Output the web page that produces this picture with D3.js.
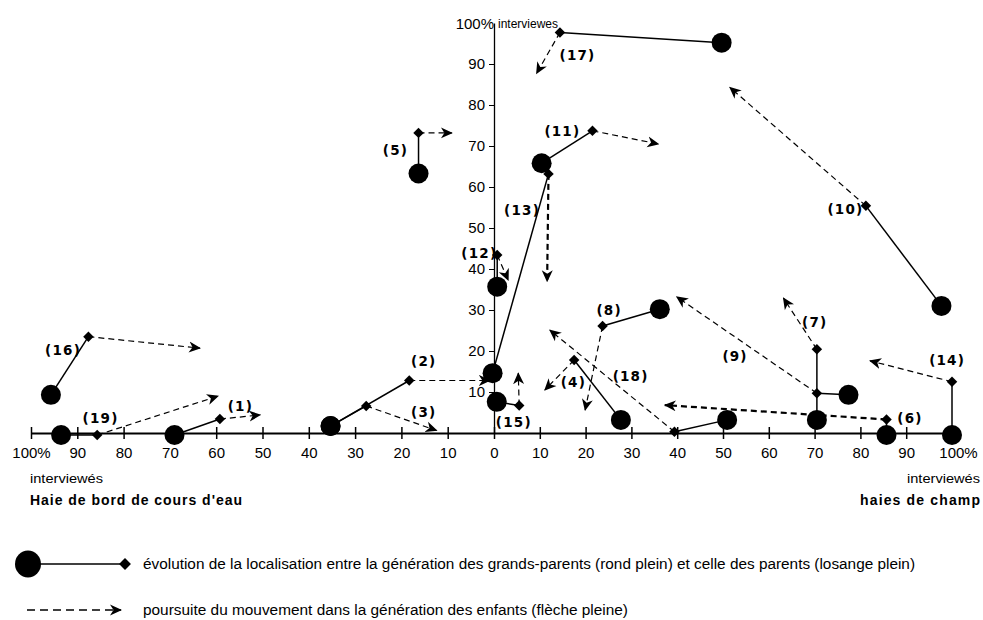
<!DOCTYPE html>
<html>
<head>
<meta charset="utf-8">
<script src="https://cdn.jsdelivr.net/npm/d3@7"></script>
<style>
  body { margin: 0; background: #fff; }
  svg { display: block; }
  .tick text { font-family: "Liberation Sans", Arial, sans-serif; font-size: 15px; fill: #000; }
  .num { font-family: "DejaVu Sans", sans-serif; font-size: 13.5px; font-weight: 600; letter-spacing: 1.2px; }
</style>
</head>
<body>
<div class="chart"></div>
<script>
// Trajectories: x negative = haie de bord de cours d'eau, positive = haies de champ
var ids = ["1", "2", "3", "4", "5", "6", "7", "8", "9", "10", "11", "12", "13", "14", "15", "16", "17", "18", "19"];
// grands-parents (rond plein)
var gpX = [-69, -35.3, -35.3, 27.7, -16.3, 85.7, 70.5, 36.2, 77.4, 97.7, 10.4, 0.7, -0.3, 100, 0.6, -95.7, 49.7, 50.9, -93.5];
var gpY = [-0.5, 1.7, 1.7, 3.2, 63.3, -0.5, 3.2, 30.2, 9.3, 31, 65.8, 35.7, 14.6, -0.5, 7.6, 9.3, 95.2, 3.2, -0.5];
// parents (losange plein)
var pX = [-59.2, -18.3, -27.6, 17.5, -16.3, 85.7, 70.5, 23.7, 70.5, 81.2, 21.5, 0.7, 11.9, 100, 5.5, -87.6, 14.4, 39.4, -85.7];
var pY = [3.4, 12.8, 6.6, 17.8, 73.2, 3.3, 20.4, 26.1, 9.7, 55.4, 73.7, 43.4, 63.2, 12.5, 6.7, 23.5, 97.7, 0.3, -0.5];
// enfants (fleche pleine)
var cX = [-50.5, -0.9, -12.4, 11.1, -9.1, 37.3, 63.2, 19.9, 39.9, 51.5, 35.9, 3.1, 11.6, 82.1, 5.3, -63.5, 9.3, 12.2, -59.6];
var cY = [4.4, 12.8, 0.6, 10.5, 73.2, 6.8, 32.9, 5.6, 33.2, 84.3, 70.5, 37.3, 37, 17.6, 14.6, 20.7, 87.7, 25.1, 9];
// label anchors
var labX = [-54.9, -15.3, -15.3, 17.2, -21.4, 90.7, 69.9, 25, 52.5, 76.6, 14.8, -3.3, 6.0, 98.8, 4.2, -93.2, 18.1, 29.7, -85.1];
var labY = [6.5, 17.4, 5, 12.3, 69, 3.6, 27.1, 30, 18.6, 54.6, 73.5, 43.8, 54.4, 17.8, 2.5, 20.2, 92.2, 13.9, 3.7];
var boldArrows = ["6", "13"];

var xTicks = [-100, -90, -80, -70, -60, -50, -40, -30, -20, -10, 0, 10, 20, 30, 40, 50, 60, 70, 80, 90, 100];
var yTicks = [10, 20, 30, 40, 50, 60, 70, 80, 90, 100];

var svgWidth = 983;
var svgHeight = 620;

var svg = d3.select(".chart")
  .append("svg")
  .attr("width", svgWidth)
  .attr("height", svgHeight);

var defs = svg.append("defs");
defs.append("marker")
  .attr("id", "arrow")
  .attr("viewBox", "0 -6 12 12")
  .attr("refX", 11)
  .attr("refY", 0)
  .attr("markerWidth", 12)
  .attr("markerHeight", 12)
  .attr("markerUnits", "userSpaceOnUse")
  .attr("orient", "auto")
  .append("path")
  .attr("d", "M0,-5.5L12,0L0,5.5L3.5,0Z")
  .attr("fill", "#000");

var xScale = d3.scaleLinear().domain([-100, 0, 100]).range([31, 494, 952]);
var yScale = d3.scaleLinear().domain([0, 100]).range([433, 23]);

// x axis
var xAxis = svg.append("g")
  .attr("transform", "translate(0, 433)")
  .call(d3.axisBottom(xScale)
    .tickValues(xTicks)
    .tickSizeInner(6)
    .tickSizeOuter(0)
    .tickPadding(8)
    .tickFormat(d => Math.abs(d) === 100 ? "100%" : Math.abs(d)));
xAxis.select(".domain").attr("stroke-width", 2);
xAxis.selectAll(".tick line").attr("y1", -6).attr("stroke-width", 1.5);
xAxis.selectAll(".tick").filter(d => d === 100).select("text").attr("x", 6);

// y axis
var yAxis = svg.append("g")
  .attr("transform", "translate(494, 0)")
  .call(d3.axisLeft(yScale)
    .tickValues(yTicks)
    .tickSizeInner(5)
    .tickSizeOuter(0)
    .tickPadding(4)
    .tickFormat(d => d === 100 ? "100%" : d));
yAxis.select(".domain").attr("stroke-width", 1.3);
yAxis.selectAll(".tick").filter(d => d === 100).select("line").remove();
yAxis.selectAll(".tick").filter(d => d === 100).select("text").attr("x", 0).attr("dy", "0.38em");

svg.append("text")
  .attr("x", 498).attr("y", 28)
  .style("font-family", "Liberation Sans, Arial, sans-serif")
  .style("font-size", "12px")
  .text("interviewes");

// axis side titles
var sideFont = "Liberation Sans, Arial, sans-serif";
svg.append("text").attr("x", 30).attr("y", 483)
  .attr("textLength", 73).attr("lengthAdjust", "spacingAndGlyphs")
  .style("font-family", sideFont).style("font-size", "13px").text("interviewés");
svg.append("text").attr("x", 30).attr("y", 505)
  .attr("textLength", 212).attr("lengthAdjust", "spacing")
  .style("font-family", sideFont).style("font-size", "14px").style("font-weight", "bold")
  .text("Haie de bord de cours d'eau");
svg.append("text").attr("x", 907).attr("y", 483)
  .attr("textLength", 73).attr("lengthAdjust", "spacingAndGlyphs")
  .style("font-family", sideFont).style("font-size", "13px").text("interviewés");
svg.append("text").attr("x", 860).attr("y", 505)
  .attr("textLength", 120).attr("lengthAdjust", "spacing")
  .style("font-family", sideFont).style("font-size", "14px").style("font-weight", "bold")
  .text("haies de champ");

var trips = ids.map((id, i) => ({
  id: id, gx: gpX[i], gy: gpY[i], px: pX[i], py: pY[i], cx: cX[i], cy: cY[i], lx: labX[i], ly: labY[i]
}));

var plot = svg.append("g");

// dashed continuation to children
plot.selectAll(".cont")
  .data(trips)
  .enter()
  .append("line")
  .attr("x1", d => xScale(d.px))
  .attr("y1", d => yScale(d.py))
  .attr("x2", d => xScale(d.cx))
  .attr("y2", d => yScale(d.cy))
  .attr("stroke", "#000")
  .attr("stroke-width", d => boldArrows.includes(d.id) ? 2.2 : 1.2)
  .attr("stroke-dasharray", "6,4")
  .attr("marker-end", "url(#arrow)");

// solid evolution grandparents -> parents
plot.selectAll(".evo")
  .data(trips)
  .enter()
  .append("line")
  .attr("x1", d => xScale(d.gx))
  .attr("y1", d => yScale(d.gy))
  .attr("x2", d => xScale(d.px))
  .attr("y2", d => yScale(d.py))
  .attr("stroke", "#000")
  .attr("stroke-width", 1.5);

plot.selectAll(".gp")
  .data(trips)
  .enter()
  .append("circle")
  .attr("cx", d => xScale(d.gx))
  .attr("cy", d => yScale(d.gy))
  .attr("r", 10)
  .attr("fill", "#000");

plot.selectAll(".par")
  .data(trips)
  .enter()
  .append("path")
  .attr("d", d3.symbol().type(d3.symbolDiamond2).size(70))
  .attr("transform", d => `translate(${xScale(d.px)}, ${yScale(d.py)})`)
  .attr("fill", "#000");

plot.selectAll(".lab")
  .data(trips)
  .enter()
  .append("text")
  .classed("num", true)
  .attr("x", d => xScale(d.lx) + 0.6)
  .attr("y", d => yScale(d.ly))
  .attr("text-anchor", "middle")
  .attr("dy", "0.35em")
  .text(d => `(${d.id})`);

// legend
var legend = svg.append("g");
legend.append("line")
  .attr("x1", 28).attr("y1", 564).attr("x2", 125).attr("y2", 564)
  .attr("stroke", "#000").attr("stroke-width", 1.5);
legend.append("ellipse")
  .attr("cx", 28).attr("cy", 564).attr("rx", 13).attr("ry", 13.5).attr("fill", "#000");
legend.append("path")
  .attr("d", d3.symbol().type(d3.symbolDiamond2).size(90))
  .attr("transform", "translate(125, 564)")
  .attr("fill", "#000");
legend.append("text")
  .attr("x", 143).attr("y", 564).attr("dy", "0.35em")
  .attr("textLength", 772).attr("lengthAdjust", "spacingAndGlyphs")
  .style("font-family", sideFont).style("font-size", "14px")
  .text("évolution de la localisation entre la génération des grands-parents (rond plein) et celle des parents (losange plein)");
legend.append("line")
  .attr("x1", 27).attr("y1", 610).attr("x2", 121).attr("y2", 610)
  .attr("stroke", "#000").attr("stroke-width", 1.5)
  .attr("stroke-dasharray", "8,5")
  .attr("marker-end", "url(#arrow)");
legend.append("text")
  .attr("x", 143).attr("y", 610).attr("dy", "0.35em")
  .attr("textLength", 485).attr("lengthAdjust", "spacingAndGlyphs")
  .style("font-family", sideFont).style("font-size", "14px")
  .text("poursuite du mouvement dans la génération des enfants (flèche pleine)");
</script>
</body>
</html>
